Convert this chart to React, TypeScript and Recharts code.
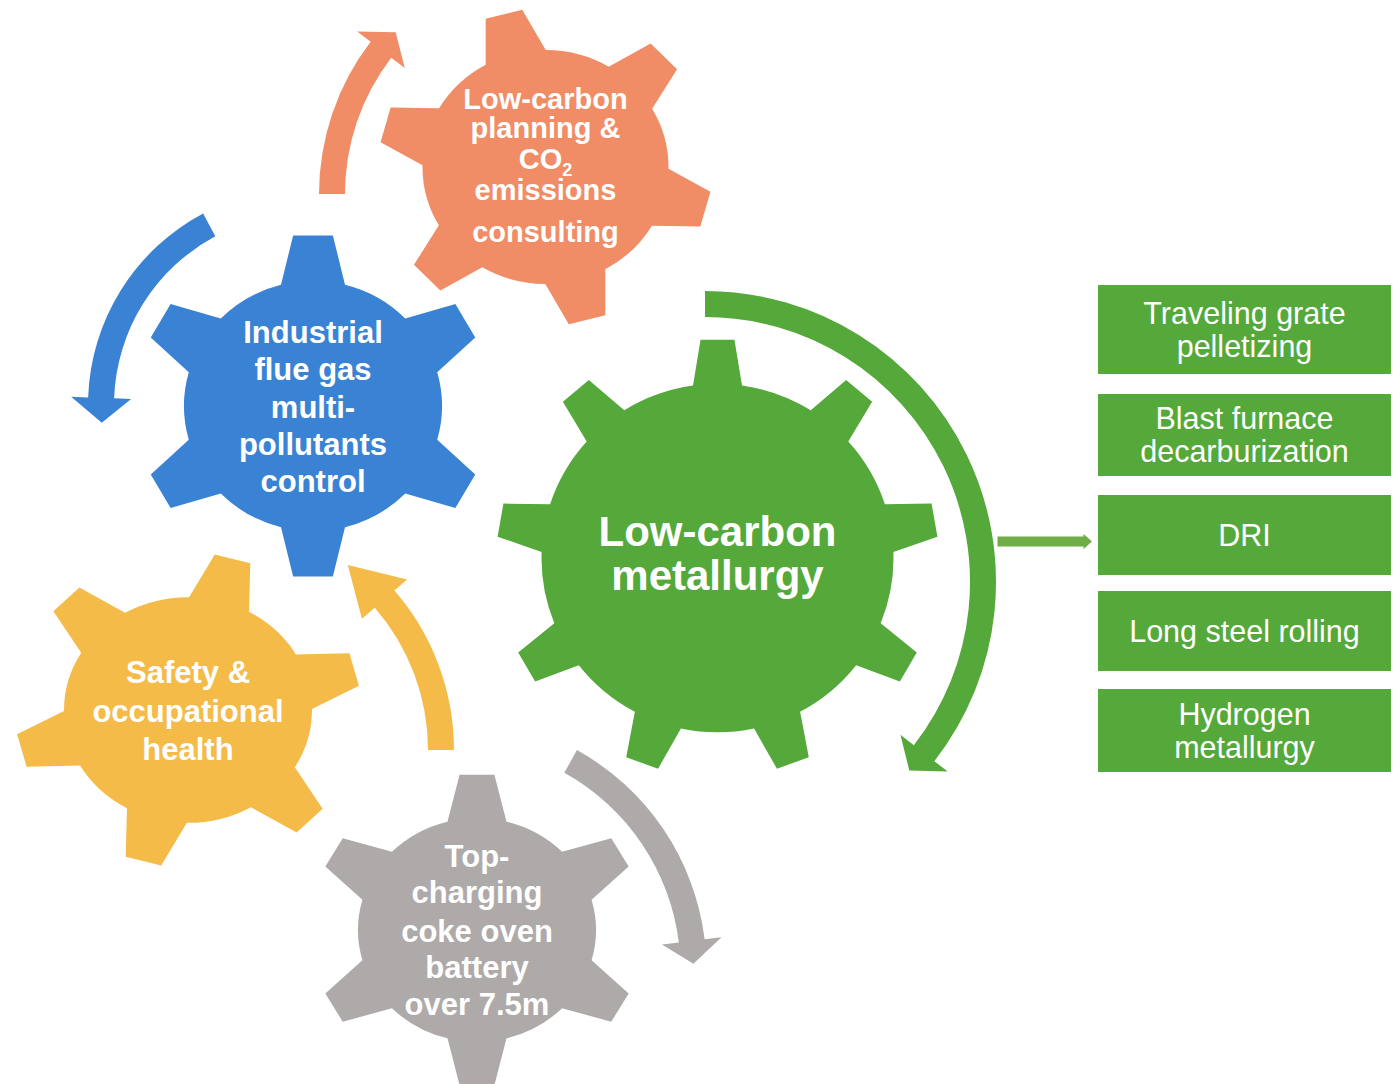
import React from 'react';
import { ScatterChart, Scatter, XAxis, YAxis, ReferenceArea } from 'recharts';

const W = 1399;
const H = 1084;
const FONT = "'Liberation Sans', Arial, Helvetica, sans-serif";

// gears: centre, body radius, tooth tip radius, vertical squash, tooth count, phase of first tooth (deg)
const gearNames = ['planning', 'flue', 'metallurgy', 'safety', 'coke'];
const gearX = [545.5, 313, 717.5, 188, 477];
const gearY = [167, 406, 558, 710, 930];
const gearBody = [123, 129, 176, 124, 119];
const gearOuter = [167, 177, 221, 173, 166];
const gearSquash = [0.951, 0.97, 0.99, 0.91, 0.94];
const gearTeeth = [6, 6, 9, 6, 6];
const gearPhase = [104.5, 90, 90, 75, 90];
const gearTipHalf = [19, 20, 17, 18.5, 17.5];
const gearBaseHalf = [31, 32, 24.5, 31, 29.5];
const gearLines = [
  ['Low-carbon', 'planning &', 'CO_2', 'emissions', 'consulting'],
  ['Industrial', 'flue gas', 'multi-', 'pollutants', 'control'],
  ['Low-carbon', 'metallurgy'],
  ['Safety &', 'occupational', 'health'],
  ['Top-', 'charging', 'coke oven', 'battery', 'over 7.5m'],
];
// baseline of each label line, relative to gear centre
const gearLineDy = [
  [-58, -29, 2, 33, 75],
  [-63, -26, 12, 49, 86],
  [-12, 32],
  [-27, 12, 50],
  [-63, -27, 12, 48, 85],
];
const gearFont = [29, 31, 42, 31, 31];
const gearColor: Record<string, string> = {
  planning: '#F08D66',
  flue: '#3A83D4',
  metallurgy: '#55A83A',
  safety: '#F5BB48',
  coke: '#AEAAA9',
};

// curved arrows: arc centre, mid radius, start angle, head base angle, tip angle (deg, math orientation)
const arrowNames = ['planning', 'flue', 'safety', 'coke', 'metallurgy'];
const arrowX = [569, 305, 211, 455, 705];
const arrowY = [194, 405, 750, 970, 582];
const arrowR = [237, 204, 230, 238.5, 278];
const arrowStart = [180, 118, 0, 61, 90];
const arrowBase = [142.5, 178, 41, 7, -38];
const arrowTip = [137, 185, 53.5, 1.5, -42.7];

// process boxes on the right
const boxLabels = [
  ['Traveling grate', 'pelletizing'],
  ['Blast furnace', 'decarburization'],
  ['DRI'],
  ['Long steel rolling'],
  ['Hydrogen', 'metallurgy'],
];
const boxTop = [285, 394, 495, 591, 689];
const boxBottom = [374, 476, 575, 671, 772];
const boxLeft = 1098;
const boxRight = 1391;

const gearData = gearNames.map((name, i) => ({
  name,
  x: gearX[i],
  y: gearY[i],
  body: gearBody[i],
  outer: gearOuter[i],
  k: gearSquash[i],
  teeth: gearTeeth[i],
  phase: gearPhase[i],
  tipHalf: gearTipHalf[i],
  baseHalf: gearBaseHalf[i],
  lines: gearLines[i],
  dy: gearLineDy[i],
  font: gearFont[i],
}));

const arrowData = arrowNames.map((name, i) => ({
  name,
  x: arrowX[i],
  y: arrowY[i],
  r: arrowR[i],
  start: arrowStart[i],
  base: arrowBase[i],
  tip: arrowTip[i],
}));

const connectorData = [{ x: 996, y: 541.5, len: 98 }];

const RAD = Math.PI / 180;
const pt = (cx: number, cy: number, r: number, deg: number, k = 1) =>
  `${(cx + r * Math.cos(deg * RAD)).toFixed(2)},${(cy - k * r * Math.sin(deg * RAD)).toFixed(2)}`;

const gearPath = (cx: number, cy: number, g: any) => {
  const step = 360 / g.teeth;
  const bb = Math.asin(g.baseHalf / g.body) / RAD;
  const bt = Math.atan(g.tipHalf / g.outer) / RAD;
  const k = g.k;
  let d = '';
  for (let i = 0; i < g.teeth; i++) {
    const a = g.phase + i * step;
    d += `${i === 0 ? 'M' : 'L'}${pt(cx, cy, g.body, a - bb, k)} `;
    d += `L${pt(cx, cy, g.outer, a - bt, k)} L${pt(cx, cy, g.outer, a + bt, k)} L${pt(cx, cy, g.body, a + bb, k)} `;
    d += `A${g.body},${(g.body * k).toFixed(2)} 0 0 0 ${pt(cx, cy, g.body, a + step - bb, k)} `;
  }
  return d + 'Z';
};

const arrowPath = (cx: number, cy: number, a: any) => {
  const halfW = 13;
  const headHalf = 30;
  const rO = a.r + halfW;
  const rI = a.r - halfW;
  const sweep = a.base < a.start ? 1 : 0;
  const large = Math.abs(a.base - a.start) > 180 ? 1 : 0;
  return [
    `M${pt(cx, cy, rO, a.start)}`,
    `A${rO},${rO} 0 ${large} ${sweep} ${pt(cx, cy, rO, a.base)}`,
    `L${pt(cx, cy, a.r + headHalf, a.base)}`,
    `L${pt(cx, cy, a.r, a.tip)}`,
    `L${pt(cx, cy, a.r - headHalf, a.base)}`,
    `L${pt(cx, cy, rI, a.base)}`,
    `A${rI},${rI} 0 ${large} ${1 - sweep} ${pt(cx, cy, rI, a.start)}`,
    'Z',
  ].join(' ');
};

const GearShape = (props: any) => {
  const { cx, cy, payload } = props;
  return (
    <g>
      <path d={gearPath(cx, cy, payload)} fill={gearColor[payload.name]} />
      {payload.lines.map((t: string, i: number) => {
        const sub = t.split('_');
        return (
          <text
            key={i}
            x={cx}
            y={cy + payload.dy[i]}
            textAnchor="middle"
            fill="#fff"
            fontSize={payload.font}
            fontWeight="bold"
            fontFamily={FONT}
          >
            {sub[0]}
            {sub[1] && (
              <tspan fontSize={18} dy={7}>
                {sub[1]}
              </tspan>
            )}
          </text>
        );
      })}
    </g>
  );
};

const ArrowShape = (props: any) => {
  const { cx, cy, payload } = props;
  return <path d={arrowPath(cx, cy, payload)} fill={gearColor[payload.name]} />;
};

const ConnectorShape = (props: any) => {
  const { cx, cy, payload } = props;
  const head = 12;
  const x2 = cx + payload.len;
  const d = `M${cx},${cy - 6.5} L${x2 - head},${cy - 6.5} L${x2 - head},${cy - 11} L${x2},${cy} L${x2 - head},${cy + 11} L${x2 - head},${cy + 6.5} L${cx},${cy + 6.5} Z`;
  return <path d={d} fill="#70AD47" stroke="#fff" strokeWidth={3} />;
};

const boxText = (lines: string[]) => (p: any) => {
  const { x, y, width, height } = p.viewBox;
  const lh = 33;
  const mx = x + width / 2;
  const first = y + height / 2 - ((lines.length - 1) * lh) / 2 + 10.5;
  return (
    <g>
      {lines.map((t, i) => (
        <text key={i} x={mx} y={first + i * lh} textAnchor="middle" fill="#fff" fontSize={30.5} fontFamily={FONT}>
          {t}
        </text>
      ))}
    </g>
  );
};

const App = () => {
  return (
    <div style={{ position: 'absolute', left: 0, top: 0, width: W, height: H, background: '#fff' }}>
      <ScatterChart width={W} height={H} margin={{ top: 0, right: 0, bottom: 0, left: 0 }}>
        <XAxis type="number" dataKey="x" domain={[0, W]} hide />
        <YAxis type="number" dataKey="y" domain={[0, H]} reversed hide />
        {boxLabels.map((lines, i) => (
          <ReferenceArea
            key={i}
            x1={boxLeft}
            x2={boxRight}
            y1={boxTop[i]}
            y2={boxBottom[i]}
            fill="#55A83A"
            fillOpacity={1}
            stroke="none"
            label={boxText(lines)}
          />
        ))}
        <Scatter data={arrowData} shape={ArrowShape} isAnimationActive={false} />
        <Scatter data={gearData} shape={GearShape} isAnimationActive={false} />
        <Scatter data={connectorData} shape={ConnectorShape} isAnimationActive={false} />
      </ScatterChart>
    </div>
  );
};

export default App;
